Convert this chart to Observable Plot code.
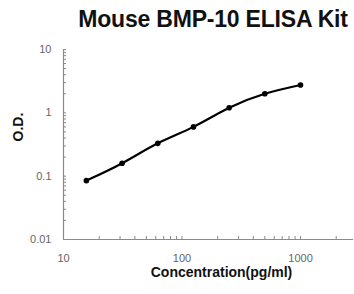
<!DOCTYPE html>
<html>
<head>
<meta charset="utf-8">
<script src="https://cdn.jsdelivr.net/npm/d3@7"></script>
<script src="https://cdn.jsdelivr.net/npm/@observablehq/plot@0.6"></script>
<style>
  body { margin: 0; background: #fff; }
  #wrap { width: 354px; height: 294px; position: relative; overflow: hidden; }
  #title { position: absolute; left: 0; top: 0; width: 354px; height: 36px;
    font-family: "Liberation Sans", Arial, sans-serif; font-weight: bold; font-size: 23px;
    color: #111; }
  #title span { position: absolute; left: 213px; top: 6px; transform: translateX(-50%); white-space: nowrap; letter-spacing: -0.2px; }
  #chart { position: absolute; left: 0; top: 36px; }
</style>
</head>
<body>
<div id="wrap">
  <div id="title"><span>Mouse BMP-10 ELISA Kit</span></div>
  <div id="chart"></div>
</div>
<script>
const concentrations = [15.6, 31.25, 62.5, 125, 250, 500, 1000];
const odValues = [0.085, 0.16, 0.33, 0.60, 1.2, 2.0, 2.75];
const xTickLabels = [10, 100, 1000];
const yTickLabels = [0.01, 0.1, 1, 10];
const xMinorTicks = [20, 30, 40, 50, 60, 70, 80, 90, 100, 200, 300, 400, 500, 600, 700, 800, 900, 1000, 2000];
const yMinorTicks = [0.02,0.03,0.04,0.05,0.06,0.07,0.08,0.09,0.1,0.2,0.3,0.4,0.5,0.6,0.7,0.8,0.9,1,2,3,4,5,6,7,8,9,10];

const data = concentrations.map((c, i) => ({c, od: odValues[i]}));
const axisColor = "#8a8a8a";
const tickFont = "Liberation Sans, Arial, sans-serif";

const chart = Plot.plot({
  width: 354,
  height: 258,
  marginTop: 13,
  marginLeft: 63,
  marginRight: 1,
  marginBottom: 55,
  style: {fontFamily: tickFont, background: "#fff"},
  x: {type: "log", domain: [10, 2800]},
  y: {type: "log", domain: [0.01, 10]},
  marks: [
    Plot.axisX({ticks: xMinorTicks, tickSize: 3, dy: -3, tickFormat: () => "", stroke: axisColor, label: null}),
    Plot.axisX({ticks: xTickLabels, tickSize: 0, tickPadding: 15, tickFormat: d => String(d), fontSize: 11, fill: "#666", label: null}),
    Plot.axisY({ticks: yMinorTicks, tickSize: 3, dx: 3, tickFormat: () => "", stroke: axisColor, label: null}),
    Plot.axisY({ticks: yTickLabels, tickSize: 0, tickPadding: 12, tickFormat: d => String(d), fontSize: 11, fill: "#666", label: null}),
    Plot.ruleX([10], {stroke: axisColor, strokeWidth: 1.2}),
    Plot.ruleY([0.01], {stroke: axisColor, strokeWidth: 1.2}),
    Plot.line(data, {x: "c", y: "od", curve: "natural", stroke: "#000", strokeWidth: 2.2}),
    Plot.dot(data, {x: "c", y: "od", r: 2.8, fill: "#000"}),
    Plot.text(["Concentration(pg/ml)"], {frameAnchor: "bottom", dx: 13, dy: 37, fontSize: 14, fontWeight: "bold", fill: "#111"}),
    Plot.text(["O.D."], {frameAnchor: "left", dx: -45, dy: -3, rotate: -90, fontSize: 14, fontWeight: "bold", fill: "#111"})
  ]
});
document.getElementById("chart").appendChild(chart);
</script>
</body>
</html>
